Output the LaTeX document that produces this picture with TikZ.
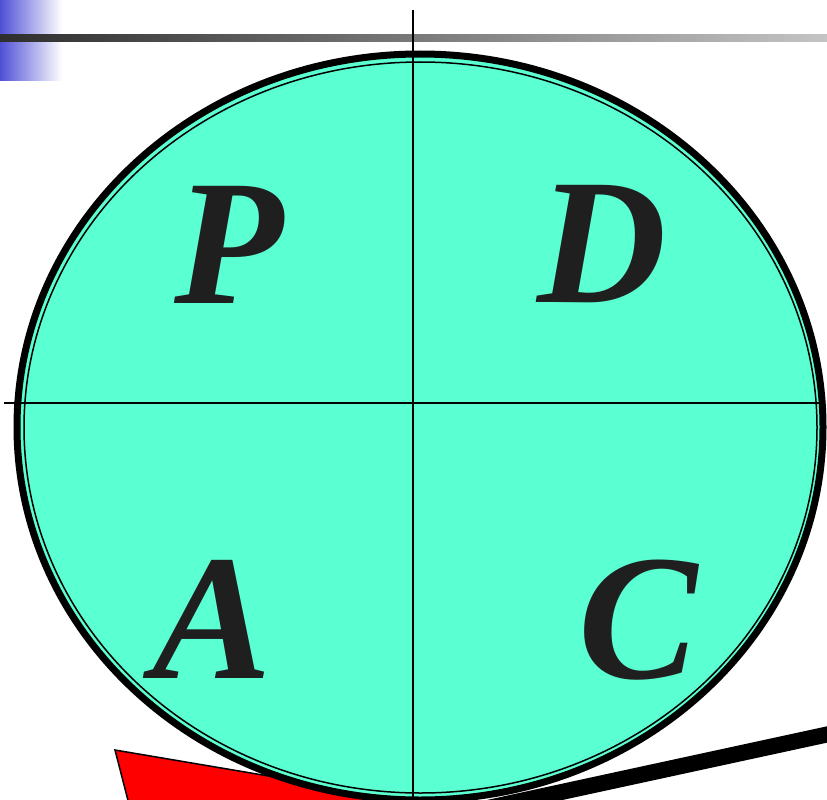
\documentclass[tikz,border=0pt]{standalone}
\usepackage{fontspec}
\setmainfont{Liberation Serif}
\definecolor{pdcaaqua}{RGB}{90,255,210}
\definecolor{letterink}{RGB}{31,31,31}
\definecolor{cornerblue}{RGB}{80,80,215}
\tikzset{
  quarter/.style={font=\fontsize{179}{179}\selectfont\bfseries\itshape, text=letterink, inner sep=0pt, anchor=base},
  axis/.style={line width=1.3pt},
}
\begin{document}
\begin{tikzpicture}[x=1pt, y=-1pt]
    \clip (0,0) rectangle (827,800);
    % Esquina degradada y barra superior
    \shade[left color=cornerblue, right color=white] (0,0) rectangle (62,80);
    \shade[left color=black!82, right color=black!23] (0,35) rectangle (827,42);

    % Cuña roja (debajo del círculo)
    \draw[fill=red, line width=1.5pt] (115,750) -- (440,805) -- (440,812) -- (131,812) -- cycle;

    % Círculo
    \fill[pdcaaqua] (420,427) ellipse [x radius=403, y radius=373];
    \draw[line width=7pt] (420,427) ellipse [x radius=403, y radius=373];
    \draw[line width=1.5pt] (420.5,427.5) ellipse [x radius=396.5, y radius=365.5];

    % Ejes
    \draw[axis] (413,10) -- (413,800);
    \draw[axis] (4,403) -- (820,403);

    % Letras
    \node[quarter] (P) at (229,303) {P};
    \node[quarter] (D) at (602,302) {D};
    \node[quarter] (A) at (212,678) {A};
    \node[quarter] (C) at (638,678) {C};

    % Barra negra
    \draw[line width=16pt] (850,729.5) -- (400,827);
\end{tikzpicture}
\end{document}
